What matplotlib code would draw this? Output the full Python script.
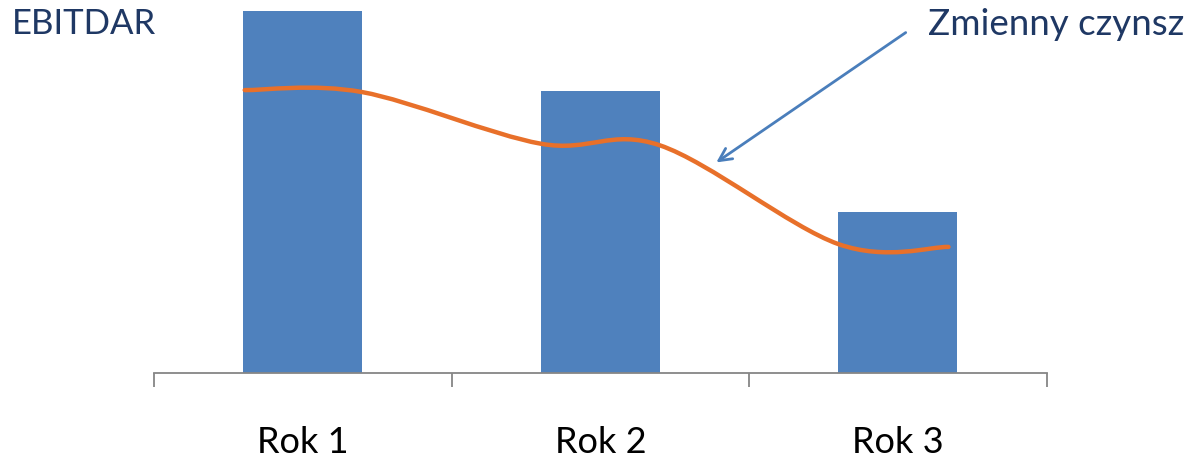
import numpy as np
import matplotlib.pyplot as plt
from matplotlib.path import Path
from matplotlib.patches import PathPatch

# Dane wykresu
lata = ['Rok 1', 'Rok 2', 'Rok 3']
ebitdar = [90, 70, 40]

# Punkty linii "Zmienny czynsz" (x w jednostkach kategorii)
czynsz_x = [-0.195, 0.2, 0.8, 1.2, 1.8, 2.17]
czynsz_y = [70.3, 69.8, 57.0, 56.6, 32.1, 31.4]

plt.rcParams['font.family'] = ['Lato', 'DejaVu Sans']

fig = plt.figure(figsize=(12.01, 4.58), dpi=100)
ax = fig.add_axes([0.1282, 0.1845, 0.7433, 0.8098])

x = np.arange(len(lata))
ax.bar(x, ebitdar, width=0.4, color='#4F81BD', zorder=2)

# Wygładzona linia jak w Excelu (krzywe Beziera przez punkty)
pts = np.column_stack([czynsz_x, czynsz_y])
verts = [pts[0]]
codes = [Path.MOVETO]
n = len(pts)
for i in range(n - 1):
    p0 = pts[max(i - 1, 0)]
    p1 = pts[i]
    p2 = pts[i + 1]
    p3 = pts[min(i + 2, n - 1)]
    c1 = p1 + (p2 - p0) / 6
    c2 = p2 - (p3 - p1) / 6
    verts += [c1, c2, p2]
    codes += [Path.CURVE4] * 3
ax.add_patch(PathPatch(Path(verts, codes), fill=False, edgecolor='#E8702A',
                       lw=3.2, capstyle='round', zorder=3))

ax.set_xlim(-0.5, 2.5)
ax.set_ylim(0, 92)

for s in ['top', 'right', 'left']:
    ax.spines[s].set_visible(False)
ax.spines['bottom'].set_color('#868686')
ax.spines['bottom'].set_linewidth(1.3)
ax.set_yticks([])

ax.set_xticks(x)
ax.set_xticklabels(lata, fontsize=26, color='black')
ax.tick_params(axis='x', which='major', length=0, pad=38)
ax.set_xticks([-0.5, 0.5, 1.5, 2.5], minor=True)
ax.tick_params(axis='x', which='minor', length=10, width=1.3, color='#868686')

fig.text(12 / 1201, 1 - 34.5 / 458, 'EBITDAR', fontsize=25, color='#1F3864',
         ha='left', va='baseline')
fig.text(928 / 1201, 1 - 35 / 458, 'Zmienny czynsz', fontsize=26.5, color='#1F3864',
         ha='left', va='baseline')

ax.annotate('', xy=(714 / 1201, 1 - 164 / 458), xycoords='figure fraction',
            xytext=(908 / 1201, 1 - 31 / 458), textcoords='figure fraction',
            arrowprops=dict(arrowstyle='->,head_length=0.9,head_width=0.45',
                            color='#4A7EBB', lw=2))

fig.savefig('out.png', dpi=100)
